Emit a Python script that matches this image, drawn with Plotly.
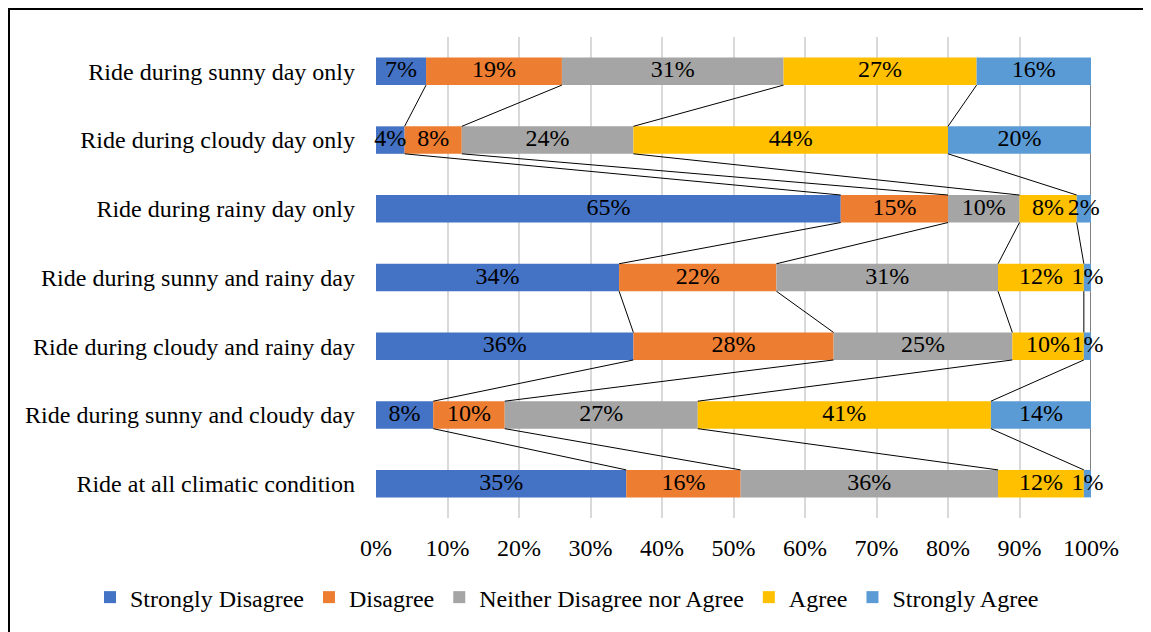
import plotly.graph_objects as go

categories = [
    "Ride during sunny day only",
    "Ride during cloudy day only",
    "Ride during rainy day only",
    "Ride during sunny and rainy day",
    "Ride during cloudy and rainy day",
    "Ride during sunny and cloudy day",
    "Ride at all climatic condition",
]
series_names = ["Strongly Disagree", "Disagree", "Neither Disagree nor Agree", "Agree", "Strongly Agree"]
strongly_disagree = [7, 4, 65, 34, 36, 8, 35]
disagree = [19, 8, 15, 22, 28, 10, 16]
neither = [31, 24, 10, 31, 25, 27, 36]
agree = [27, 44, 8, 12, 10, 41, 12]
strongly_agree = [16, 20, 2, 1, 1, 14, 1]
tick_vals_x = [0, 10, 20, 30, 40, 50, 60, 70, 80, 90, 100]

series_values = [strongly_disagree, disagree, neither, agree, strongly_agree]
colors = ["#4472C4", "#ED7D31", "#A5A5A5", "#FFC000", "#5B9BD5"]
FONT = "Liberation Serif, Times New Roman, serif"
FS = 24
BW = 0.40

W, H = 1151, 632
ML, MT = 368, 29
PW, PH = 715, 481.4
MR = W - ML - PW
MB = H - MT - PH

ypos = list(range(len(categories)))
fig = go.Figure()

cums = []
running = [0] * len(categories)
for name, vals, col in zip(series_names, series_values, colors):
    fig.add_trace(go.Bar(
        orientation="h", y=ypos, x=vals, base=running[:], name=name,
        marker=dict(color=col, line=dict(width=0)), width=BW,
    ))
    running = [r + v for r, v in zip(running, vals)]
    cums.append(running[:])

# series lines
lx, ly = [], []
for cum in cums:
    for i in range(len(categories) - 1):
        lx += [cum[i], cum[i + 1], None]
        ly += [i + BW / 2, i + 1 - BW / 2, None]
fig.add_trace(go.Scatter(x=lx, y=ly, mode="lines", line=dict(color="black", width=1),
                         showlegend=False, hoverinfo="skip"))

# labels
tx, ty, tt = [], [], []
for vals, cum in zip(series_values, cums):
    for i, (v, c) in enumerate(zip(vals, cum)):
        tx.append(c - v / 2)
        ty.append(i)
        tt.append(f"{v}%")
fig.add_trace(go.Scatter(x=tx, y=ty, text=tt, mode="text", textposition="middle center",
                         textfont=dict(family=FONT, size=FS, color="black"),
                         showlegend=False, hoverinfo="skip", cliponaxis=False))

def px_x(p):
    return (p - ML) / PW

def px_y(p):
    return (MT + PH - p) / PH

fig.update_layout(
    width=W, height=H,
    barmode="overlay",
    plot_bgcolor="white", paper_bgcolor="white",
    margin=dict(l=ML, r=MR, t=MT, b=MB, autoexpand=False),
    font=dict(family=FONT, size=FS, color="black"),
    xaxis=dict(range=[0, 100], tickvals=tick_vals_x, ticktext=[f"{v}%" for v in tick_vals_x],
               showgrid=True, gridcolor="#D9D9D9", gridwidth=1.5, zeroline=False,
               showline=False, ticklabelstandoff=13, tickfont=dict(family=FONT, size=FS)),
    yaxis=dict(range=[6.5, -0.5], tickvals=ypos, ticktext=categories, showgrid=False,
               zeroline=False, showline=False, ticklabelstandoff=20,
               tickfont=dict(family=FONT, size=FS)),
    legend=dict(orientation="h", x=px_x(82), xanchor="left", y=px_y(590), yanchor="middle",
                font=dict(family=FONT, size=24), itemwidth=30, traceorder="normal"),
    shapes=[dict(type="rect", xref="paper", yref="paper", x0=px_x(1), x1=px_x(W + 20),
                 y0=px_y(H + 20), y1=px_y(1),
                 line=dict(color="black", width=2), layer="below")],
)

fig.write_html("out.html")
